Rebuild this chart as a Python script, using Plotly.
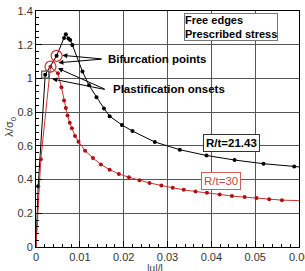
import plotly.graph_objects as go

# R/t = 21.43 (black)
x_black = [0, 0.0005, 0.0021, 0.0047, 0.0064, 0.0068, 0.0074, 0.0078, 0.0083, 0.0106, 0.0121,
           0.0138, 0.0155, 0.0168, 0.0196, 0.0220, 0.0271, 0.0328, 0.0389, 0.0453, 0.0519, 0.0589, 0.0600]
y_black = [0, 0.36, 1.022, 1.134, 1.24, 1.262, 1.237, 1.228, 1.198, 1.041, 0.959,
           0.888, 0.822, 0.776, 0.724, 0.688, 0.623, 0.577, 0.543, 0.516, 0.494, 0.478, 0.475]

# R/t = 30 (red)
x_red = [0, 0.0011, 0.0033, 0.0050, 0.0058, 0.0064, 0.0068, 0.0072, 0.0077, 0.0082, 0.0089,
         0.0097, 0.0112, 0.0130, 0.0148, 0.0168, 0.0189, 0.0212, 0.0236, 0.0259, 0.0286,
         0.0312, 0.0337, 0.0364, 0.0390, 0.0419, 0.0447, 0.0476, 0.0503, 0.0532, 0.0561, 0.0600]
y_red = [0, 0.52, 1.07, 1.03, 0.947, 0.869, 0.825, 0.78, 0.737, 0.704, 0.659,
         0.625, 0.571, 0.528, 0.49, 0.459, 0.433, 0.414, 0.396, 0.38, 0.365,
         0.351, 0.339, 0.329, 0.322, 0.312, 0.302, 0.296, 0.29, 0.284, 0.278, 0.275]

# special points
bif_x = [0.0047, 0.0033]
bif_y = [1.134, 1.07]
plast_x = [0.0021]
plast_y = [1.022]

RED_LINE = "#d03030"
RED_MARK = "#b01010"
FONT = "Liberation Sans"

fig = go.Figure()
fig.add_trace(go.Scatter(x=x_black, y=y_black, mode="lines", line=dict(color="black", width=1),
                         showlegend=False, hoverinfo="skip"))
fig.add_trace(go.Scatter(x=x_black[1:-1], y=y_black[1:-1], mode="markers",
                         marker=dict(color="black", size=4), showlegend=False))
fig.add_trace(go.Scatter(x=x_red, y=y_red, mode="lines", line=dict(color=RED_LINE, width=1),
                         showlegend=False, hoverinfo="skip"))
fig.add_trace(go.Scatter(x=x_red[1:-1], y=y_red[1:-1], mode="markers",
                         marker=dict(color=RED_MARK, size=4), showlegend=False))
fig.add_trace(go.Scatter(x=bif_x, y=bif_y, mode="markers",
                         marker=dict(color="rgba(0,0,0,0)", size=11,
                                     line=dict(color=RED_LINE, width=1.2)), showlegend=False))
fig.add_trace(go.Scatter(x=plast_x, y=plast_y, mode="markers",
                         marker=dict(symbol="square-open", color="#555", size=7,
                                     line=dict(width=1.2)), showlegend=False))

anns = []
# arrows for bifurcation points
for (hx, hy) in [(0.0060, 1.137), (0.0051, 1.093)]:
    anns.append(dict(x=hx, y=hy, ax=0.0153, ay=1.115, xref="x", yref="y", axref="x", ayref="y",
                     text="", showarrow=True, arrowhead=2, arrowsize=1, arrowwidth=1,
                     arrowcolor="black"))
for (hx, hy) in [(0.0050, 1.060), (0.0037, 0.997)]:
    anns.append(dict(x=hx, y=hy, ax=0.0160, ay=0.933, xref="x", yref="y", axref="x", ayref="y",
                     text="", showarrow=True, arrowhead=2, arrowsize=1, arrowwidth=1,
                     arrowcolor="black"))
anns.append(dict(x=0.0160, y=1.114, xref="x", yref="y", text="<b>Bifurcation points</b>",
                 showarrow=False, xanchor="left", yanchor="middle",
                 font=dict(family=FONT, size=11.5, color="black")))
anns.append(dict(x=0.0172, y=0.937, xref="x", yref="y", text="<b>Plastification onsets</b>",
                 showarrow=False, xanchor="left", yanchor="middle",
                 font=dict(family=FONT, size=11.5, color="black")))
anns.append(dict(x=0.0338, y=1.39, xref="x", yref="y",
                 text="<b>Free edges<br>Prescribed stress</b>", align="left",
                 showarrow=False, xanchor="left", yanchor="top",
                 bordercolor="#777", borderwidth=1, borderpad=0, bgcolor="white",
                 font=dict(family=FONT, size=11, color="black")))
anns.append(dict(x=0.0381, y=0.615, xref="x", yref="y", text="<b>R/t=21.43</b>",
                 showarrow=False, xanchor="left", yanchor="middle",
                 bordercolor="#333", borderwidth=1, borderpad=2, bgcolor="white",
                 font=dict(family=FONT, size=11.5, color="black")))
anns.append(dict(x=0.0376, y=0.393, xref="x", yref="y", text="R/t=30",
                 showarrow=False, xanchor="left", yanchor="middle",
                 bordercolor="#d06060", borderwidth=1, borderpad=2, bgcolor="white",
                 font=dict(family=FONT, size=11.5, color="#c04848")))
anns.append(dict(x=0.0272, y=0, xref="x", yref="paper", yshift=-14, text="|u|/l",
                 showarrow=False, xanchor="center", yanchor="top",
                 font=dict(family=FONT, size=10, color="#333")))
anns.append(dict(x=0.06, y=0, xref="x", yref="paper", yshift=-2, text="0.06",
                 showarrow=False, xanchor="center", yanchor="top",
                 font=dict(family=FONT, size=11, color="#333")))
anns.append(dict(x=0, y=0.51, xref="paper", yref="paper", xshift=-26, text="λ/σ<sub>0</sub>",
                 showarrow=False, textangle=-90, xanchor="center", yanchor="middle",
                 font=dict(family=FONT, size=11, color="#333")))

axis_common = dict(showline=True, linecolor="black", linewidth=1, mirror=True,
                   showgrid=True, gridcolor="#555", gridwidth=1, zeroline=False,
                   ticks="inside", ticklen=6, tickcolor="black",
                   tickfont=dict(family=FONT, size=11, color="#333"))

fig.update_layout(
    width=305, height=271,
    margin=dict(l=36, r=5, t=7, b=24),
    paper_bgcolor="white", plot_bgcolor="white",
    annotations=anns,
    xaxis=dict(range=[0, 0.06], tickvals=[0, 0.01, 0.02, 0.03, 0.04, 0.05],
               ticktext=["0", "0.01", "0.02", "0.03", "0.04", "0.05"],
               minor=dict(dtick=0.002, tick0=0, ticks="inside", ticklen=3, tickcolor="black", showgrid=False),
               **axis_common),
    yaxis=dict(range=[0, 1.4], dtick=0.2, tick0=0,
               minor=dict(dtick=0.04, ticks="inside", ticklen=3, tickcolor="black", showgrid=False),
               **axis_common),
)

fig.write_html("out.html")
